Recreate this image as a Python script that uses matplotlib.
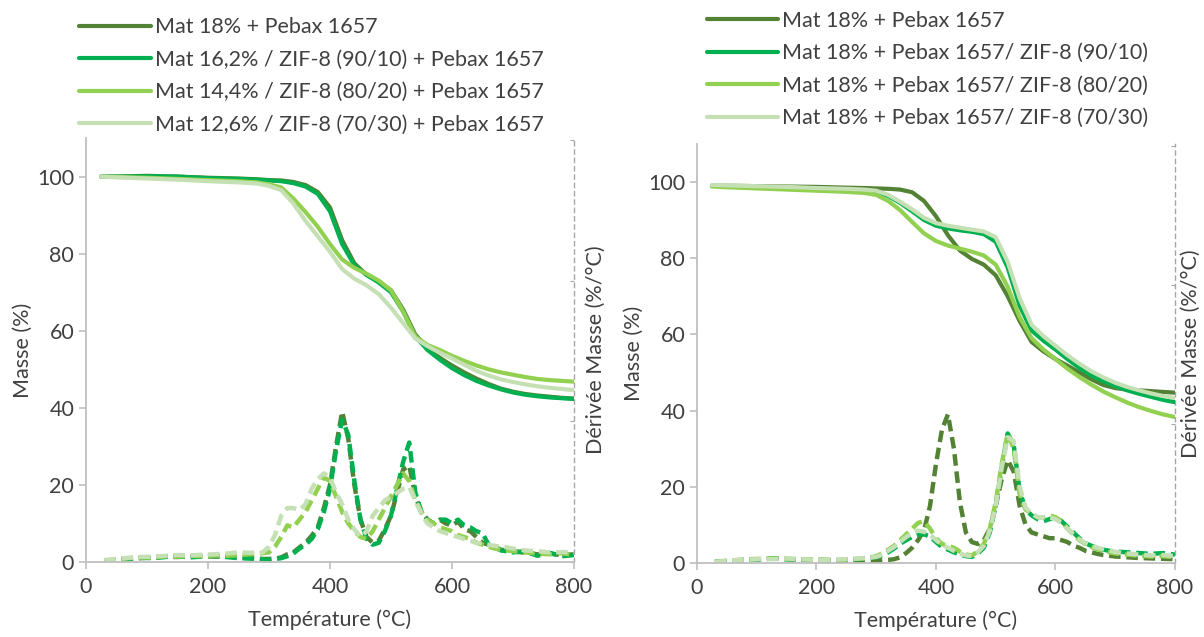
import matplotlib
matplotlib.use('Agg')
import matplotlib.pyplot as plt

plt.rcParams['font.family'] = ['Lato', 'DejaVu Sans']

# ---- colours / labels ----
COLORS = ['#548235', '#00b050', '#92d050', '#c5e0b4']
LABELS_LEFT = ['Mat 18% + Pebax 1657',
               'Mat 16,2% / ZIF-8 (90/10) + Pebax 1657',
               'Mat 14,4% / ZIF-8 (80/20) + Pebax 1657',
               'Mat 12,6% / ZIF-8 (70/30) + Pebax 1657']
LABELS_RIGHT = ['Mat 18% + Pebax 1657',
                'Mat 18% + Pebax 1657/ ZIF-8 (90/10)',
                'Mat 18% + Pebax 1657/ ZIF-8 (80/20)',
                'Mat 18% + Pebax 1657/ ZIF-8 (70/30)']

# ---- TGA mass curves ----
T_TGA = [25, 50, 100, 150, 200, 250, 280, 300, 320, 340, 360, 380, 400, 420, 440, 460,
         480, 500, 520, 540, 560, 580, 600, 620, 640, 660, 680, 700, 720, 740, 760, 780, 800]

L_T1 = [100, 100, 100.2, 100, 99.7, 99.5, 99.3, 99.1, 99.0, 98.6, 97.8, 96.0, 92.0, 83.5, 77.5, 74.5,
        72.8, 70.5, 65.5, 59.0, 55.5, 53.0, 51.0, 49.2, 47.6, 46.2, 45.0, 44.2, 43.6, 43.2, 42.9, 42.6, 42.4]
L_T2 = [100, 100, 100.1, 100, 99.6, 99.4, 99.2, 99.0, 98.8, 98.3, 97.4, 95.5, 91.0, 82.5, 77.0, 74.5,
        72.5, 70.0, 65.0, 58.5, 55.0, 52.5, 50.3, 48.5, 47.0, 45.8, 44.8, 44.0, 43.4, 43.0, 42.7, 42.5, 42.3]
L_T3 = [100, 99.9, 99.7, 99.4, 99.1, 98.8, 98.5, 98.0, 97.2, 94.3, 90.8, 87.0, 82.5, 78.5, 76.3, 74.8,
        73.0, 70.5, 65.0, 58.5, 56.3, 55.0, 53.5, 52.2, 51.0, 50.0, 49.2, 48.6, 48.0, 47.5, 47.2, 47.0, 46.8]
L_T4 = [100, 99.8, 99.5, 99.2, 98.8, 98.5, 98.2, 97.6, 96.5, 93.0, 88.5, 84.5, 80.5, 76.0, 73.5, 71.8,
        69.5, 66.0, 62.0, 58.0, 56.0, 54.3, 52.8, 51.2, 49.6, 48.4, 47.4, 46.7, 46.1, 45.6, 45.2, 44.9, 44.6]

R_T1 = [99.0, 99.0, 98.9, 98.8, 98.7, 98.5, 98.4, 98.3, 98.2, 98.0, 97.3, 95.0, 91.0, 86.0, 82.0, 79.8,
        78.3, 75.5, 70.0, 63.5, 58.0, 55.5, 53.5, 51.8, 50.0, 48.2, 46.7, 45.9, 45.5, 45.3, 45.1, 44.9, 44.7]
R_T2 = [99.0, 98.9, 98.7, 98.5, 98.2, 98.0, 97.8, 97.5, 96.3, 94.5, 92.3, 90.0, 88.5, 87.8, 87.3, 86.9,
        86.3, 84.3, 77.5, 67.5, 61.0, 58.3, 56.0, 53.5, 51.2, 49.2, 47.7, 46.4, 45.3, 44.4, 43.6, 42.8, 42.2]
R_T3 = [98.8, 98.6, 98.3, 98.0, 97.7, 97.4, 97.1, 96.6, 95.0, 92.6, 89.5, 86.5, 84.5, 83.3, 82.5, 81.7,
        80.7, 78.3, 72.5, 64.5, 59.0, 56.0, 53.5, 51.0, 48.8, 46.8, 45.0, 43.5, 42.1, 40.9, 39.9, 39.0, 38.3]
R_T4 = [99.2, 99.1, 98.9, 98.7, 98.4, 98.2, 98.0, 97.7, 96.6, 94.8, 92.8, 90.6, 89.2, 88.5, 88.0, 87.5,
        87.0, 85.5, 79.0, 69.5, 62.5, 59.5, 57.0, 54.5, 52.3, 50.3, 48.7, 47.3, 46.2, 45.3, 44.5, 43.8, 43.3]

# ---- derivative curves (DTG) ----
T_DTG = [30, 50, 70, 90, 110, 130, 150, 170, 190, 210, 230, 250, 270, 290,
         300, 310, 320, 330, 340, 350, 360, 370, 380, 390, 400, 410, 420, 430, 440, 450,
         460, 470, 480, 490, 500, 510, 520, 530, 540, 550, 560, 570, 580, 590, 600, 610,
         620, 630, 640, 650, 660, 670, 680, 690, 700,
         720, 740, 760, 780, 800]

L_D1 = [0.3, 0.6, 0.9, 1.0, 1.2, 1.4, 1.3, 1.5, 1.6, 1.4, 1.5, 1.2, 1.0, 0.8,
        0.8, 0.9, 1.2, 2.0, 2.5, 3.8, 5.0, 6.8, 9.0, 14, 20, 30, 39, 32, 20, 11,
        6.5, 5.0, 5.5, 8.5, 12, 18, 24, 25, 17, 13, 11, 10, 11, 10, 9.5, 10.5,
        8.5, 8.0, 6.5, 5.0, 4.5, 4.0, 3.2, 3.0, 2.8,
        2.4, 2.0, 2.2, 1.8, 2.0]
L_D2 = [0.2, 0.5, 0.8, 1.1, 1.0, 1.3, 1.5, 1.2, 1.4, 1.6, 1.3, 1.0, 0.9, 0.7,
        0.6, 0.8, 1.0, 1.5, 2.2, 3.5, 4.5, 6.0, 8.5, 13, 19, 29, 37, 33, 21, 11,
        6.0, 4.5, 5.0, 8.0, 12, 19, 26, 31, 18, 13, 11, 10, 11, 11, 10, 11,
        9.5, 9.0, 8.0, 7.5, 4.5, 4.0, 3.0, 2.8, 2.5,
        2.8, 1.6, 2.4, 1.5, 1.8]
L_D3 = [0.4, 0.7, 1.0, 1.2, 1.1, 1.5, 1.4, 1.6, 1.5, 1.7, 1.6, 1.8, 2.0, 2.3,
        2.5, 4.0, 6.5, 9.5, 9.0, 11, 13, 16, 19, 22, 21, 17, 13, 10, 8.0, 6.5,
        6.0, 8.0, 11, 14, 17, 20, 23, 21, 16, 13, 11, 10, 9.0, 8.5, 8.0, 7.0,
        6.5, 6.0, 5.0, 4.5, 4.0, 3.5, 3.2, 3.0, 2.8,
        2.5, 2.2, 2.0, 2.3, 1.8]
L_D4 = [0.5, 0.8, 1.1, 1.3, 1.4, 1.6, 1.8, 1.7, 1.9, 2.0, 2.2, 2.5, 2.4, 2.5,
        4.0, 7.0, 12, 14, 14, 13.5, 15, 19, 21.5, 23, 22, 18, 15, 11, 8.5, 6.5,
        8.0, 12, 14, 16, 17, 18, 19, 19.5, 16, 12.5, 10, 9.0, 8.0, 7.5, 7.0, 6.5,
        6.0, 5.5, 5.0, 4.8, 4.5, 4.2, 4.0, 3.8, 3.5,
        3.0, 2.8, 2.5, 2.6, 2.4]

R_D1 = [0.3, 0.5, 0.7, 0.9, 1.0, 1.2, 1.0, 0.9, 0.8, 0.7, 0.6, 0.5, 0.6, 0.6,
        0.6, 0.7, 0.8, 1.0, 1.5, 2.6, 4.0, 6.0, 8.5, 15, 26, 35, 39, 30, 16, 8.0,
        5.5, 5.0, 6.0, 9.0, 15, 22, 27, 24, 15, 10, 8.0, 7.5, 7.0, 6.5, 6.5, 6.0,
        5.5, 4.5, 4.0, 3.2, 2.8, 2.4, 2.1, 1.9, 1.7,
        1.5, 1.3, 1.2, 1.1, 1.0]
R_D2 = [0.3, 0.5, 0.7, 0.9, 1.0, 1.2, 1.0, 0.9, 0.8, 0.8, 0.7, 0.8, 1.0, 1.3,
        1.5, 2.0, 2.8, 3.8, 5.0, 6.0, 6.8, 7.5, 7.5, 7.0, 5.5, 4.2, 3.5, 2.8, 2.2, 1.8,
        1.6, 2.5, 4.0, 8.0, 15, 25, 34, 31, 19, 14, 12.5, 11.5, 11, 11.5, 12, 11,
        9.5, 8.0, 6.5, 5.2, 4.5, 4.0, 3.5, 3.2, 3.0,
        2.8, 2.6, 2.4, 2.6, 2.2]
R_D3 = [0.3, 0.6, 0.8, 1.0, 1.1, 1.2, 1.1, 1.0, 0.9, 0.9, 0.8, 0.9, 1.1, 1.4,
        1.8, 2.5, 3.5, 4.5, 6.0, 7.5, 9.0, 10.5, 11, 9.0, 6.5, 5.0, 4.5, 4.0, 3.0, 2.2,
        2.0, 3.0, 5.0, 9.0, 16, 26, 34, 30, 18, 14, 13, 12, 12, 12.5, 12, 11,
        9.0, 7.5, 6.0, 5.0, 4.2, 3.6, 3.2, 2.8, 2.5,
        2.2, 1.9, 1.7, 1.8, 1.5]
R_D4 = [0.3, 0.5, 0.8, 0.9, 1.1, 1.0, 1.2, 1.0, 0.9, 0.8, 0.9, 1.0, 1.2, 1.4,
        1.6, 2.2, 3.2, 4.2, 5.5, 6.8, 7.8, 8.5, 8.2, 7.5, 6.0, 4.8, 4.0, 3.2, 2.5, 2.0,
        1.8, 2.8, 4.5, 8.5, 15, 25, 33, 32, 20, 14.5, 13, 12, 12, 12, 11.5, 10.5,
        9.0, 7.5, 6.2, 5.2, 4.5, 4.0, 3.6, 3.2, 2.9,
        2.5, 2.2, 2.0, 2.1, 1.8]

GREY = '#bfbfbf'
TXT = '#404040'
FS = 15.5


def draw_panel(ax, tga, dtg, labels, legend_xy, dlabel_pad):
    for y, c, lab in zip(tga, COLORS, labels):
        ax.plot(T_TGA, y, color=c, lw=3.0, label=lab, solid_capstyle='round')
    ax2 = ax.twinx()
    for y, c in zip(dtg, COLORS):
        ax2.plot(T_DTG, y, color=c, lw=3.2, ls=(0, (2.6, 1.3)))

    ax.set_xlim(0, 800)
    ax.set_ylim(0, 110)
    ax2.set_ylim(0, 110)
    ax.set_xticks(range(0, 801, 200))
    ax.set_yticks(range(0, 101, 20))
    ax2.set_yticks([0, 36.5, 73, 109.5])
    ax2.set_yticklabels([])
    for a in (ax, ax2):
        for s in a.spines.values():
            s.set_visible(False)
    for s in ('left', 'bottom'):
        ax.spines[s].set_visible(True)
        ax.spines[s].set_color(GREY)
        ax.spines[s].set_linewidth(1.3)
    ax2.spines['right'].set_visible(True)
    ax2.spines['right'].set_color('#a6a6a6')
    ax2.spines['right'].set_linestyle((0, (3, 3)))
    ax2.spines['right'].set_linewidth(1.0)
    ax.tick_params(colors=GREY, labelcolor=TXT, labelsize=FS, length=5, width=1.2)
    ax.tick_params(axis='x', pad=6)
    ax2.tick_params(axis='y', colors='#a6a6a6', length=3, direction='in')
    ax.set_xlabel('Température (°C)', fontsize=FS, color=TXT, labelpad=9)
    ax.set_ylabel('Masse (%)', fontsize=FS, color=TXT, labelpad=3)
    ax2.set_ylabel('Dérivée Masse (%/°C)', fontsize=FS, color=TXT, labelpad=dlabel_pad)
    ax.legend(loc='upper left', bbox_to_anchor=legend_xy, bbox_transform=ax.figure.transFigure,
              frameon=False, fontsize=FS, handlelength=3.3, handletextpad=0.2,
              labelspacing=0.58, borderpad=0, borderaxespad=0, labelcolor=TXT)
    ax.set_zorder(ax2.get_zorder() + 1)
    ax.patch.set_visible(False)


fig = plt.figure(figsize=(12.04, 6.37), dpi=100)
axL = fig.add_axes([0.0714, 0.1177, 0.4053, 0.6656])
axR = fig.add_axes([0.5789, 0.1162, 0.3970, 0.6580])

draw_panel(axL, [L_T1, L_T2, L_T3, L_T4], [L_D1, L_D2, L_D3, L_D4], LABELS_LEFT, (0.066, 0.973), 5)
draw_panel(axR, [R_T1, R_T2, R_T3, R_T4], [R_D1, R_D2, R_D3, R_D4], LABELS_RIGHT, (0.587, 0.983), 1)

fig.savefig('out.png', dpi=100)
